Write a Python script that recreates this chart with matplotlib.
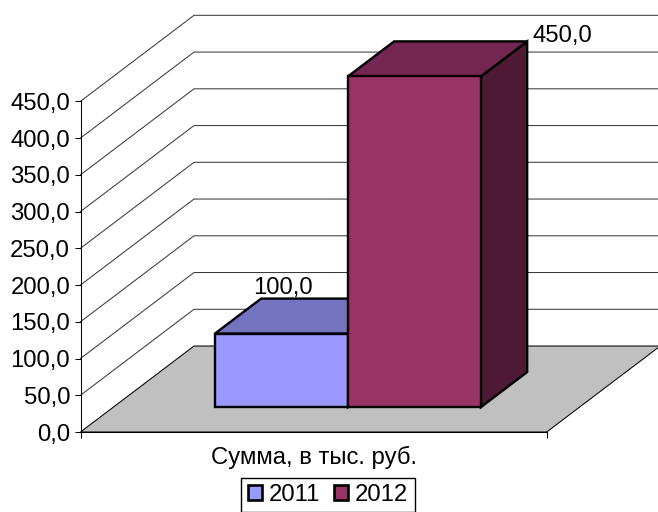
import matplotlib
matplotlib.use("Agg")
import matplotlib.pyplot as plt
from matplotlib.patches import Polygon, Patch

plt.rcParams['font.family'] = ['Liberation Sans', 'DejaVu Sans']

series_names = ["2011", "2012"]
series_values = [100.0, 450.0]
y_ticks = [0, 50, 100, 150, 200, 250, 300, 350, 400, 450]
category = "Сумма, в тыс. руб."
front_colors = ["#9999FF", "#993366"]
top_colors = ["#7373BF", "#732650"]
side_colors = ["#4D4D80", "#4D1933"]

# how far one unit of depth moves a point, in axis data units
DEPTH_X = 0.2435
DEPTH_Y = 117.0
BAR_START = 0.2178
BAR_WIDTH = 0.2853
BAR_D0 = 0.29
BAR_D1 = 0.697
FS = 17.2


def project(x, depth, value):
    return (x + depth * DEPTH_X, value + depth * DEPTH_Y)


def face(ax, pts, color, lw=1.7, z=3):
    ax.add_patch(Polygon(pts, closed=True, facecolor=color, edgecolor="black",
                         linewidth=lw, joinstyle="miter", zorder=z, clip_on=False))


fig = plt.figure(figsize=(6.58, 5.12), dpi=100)
ax = fig.add_axes([80.5 / 658, 80 / 512, 466.2 / 658, 330.7 / 512])
ax.set_xlim(0, 1)
ax.set_ylim(0, 450)

# walls grid
for v in y_ticks[1:]:
    xs, ys = zip(project(0, 0, v), project(0, 1, v), project(1, 1, v))
    ax.plot(xs, ys, color="#3a3a3a", lw=0.75, zorder=1, clip_on=False)

# floor
face(ax, [project(0, 0, 0), project(1, 0, 0), project(1, 1, 0), project(0, 1, 0)],
     "#C0C0C0", lw=0.75, z=2)

# bars
for i, val in enumerate(series_values):
    x0 = BAR_START + i * BAR_WIDTH
    x1 = x0 + BAR_WIDTH
    face(ax, [project(x1, BAR_D0, 0), project(x1, BAR_D1, 0),
              project(x1, BAR_D1, val), project(x1, BAR_D0, val)], side_colors[i])
    face(ax, [project(x0, BAR_D0, val), project(x1, BAR_D0, val),
              project(x1, BAR_D1, val), project(x0, BAR_D1, val)], top_colors[i])
    face(ax, [project(x0, BAR_D0, 0), project(x1, BAR_D0, 0),
              project(x1, BAR_D0, val), project(x0, BAR_D0, val)], front_colors[i])

# data labels
ax.annotate("100,0", project(BAR_START + BAR_WIDTH / 2, BAR_D0, series_values[0]),
            xytext=(1, 28.5), textcoords="offset points", ha="center", va="baseline",
            fontsize=FS, annotation_clip=False, zorder=5)
ax.annotate("450,0", project(BAR_START + 2 * BAR_WIDTH, BAR_D1, series_values[1]),
            xytext=(3.5, -0.5), textcoords="offset points", ha="left", va="baseline",
            fontsize=FS, annotation_clip=False, zorder=5)

for s in ["top", "right"]:
    ax.spines[s].set_visible(False)
for s in ["left", "bottom"]:
    ax.spines[s].set_linewidth(0.75)
    ax.spines[s].set_zorder(4)

ax.set_yticks(y_ticks)
ax.set_yticklabels([f"{v:.1f}".replace(".", ",") for v in y_ticks], fontsize=FS)
ax.tick_params(axis="y", length=4.5, width=0.75, pad=3)
ax.set_xticks([0, 1])
ax.set_xticklabels(["", ""])
ax.tick_params(axis="x", length=4.5, width=0.75)
ax.set_xticks([0.5], [category], minor=True, fontsize=FS)
ax.tick_params(axis="x", which="minor", length=0, pad=10)

handles = [Patch(facecolor=c, edgecolor="black", linewidth=1.9) for c in front_colors]
fig.legend(handles, series_names, loc="center", bbox_to_anchor=(328 / 658, (512 - 495) / 512),
           ncol=2, fontsize=FS, frameon=True, fancybox=False, framealpha=1, edgecolor="black",
           handlelength=0.6, handleheight=0.6, handletextpad=0.3, columnspacing=0.55,
           borderpad=0.27, borderaxespad=0)

fig.savefig("out.png", dpi=100)
